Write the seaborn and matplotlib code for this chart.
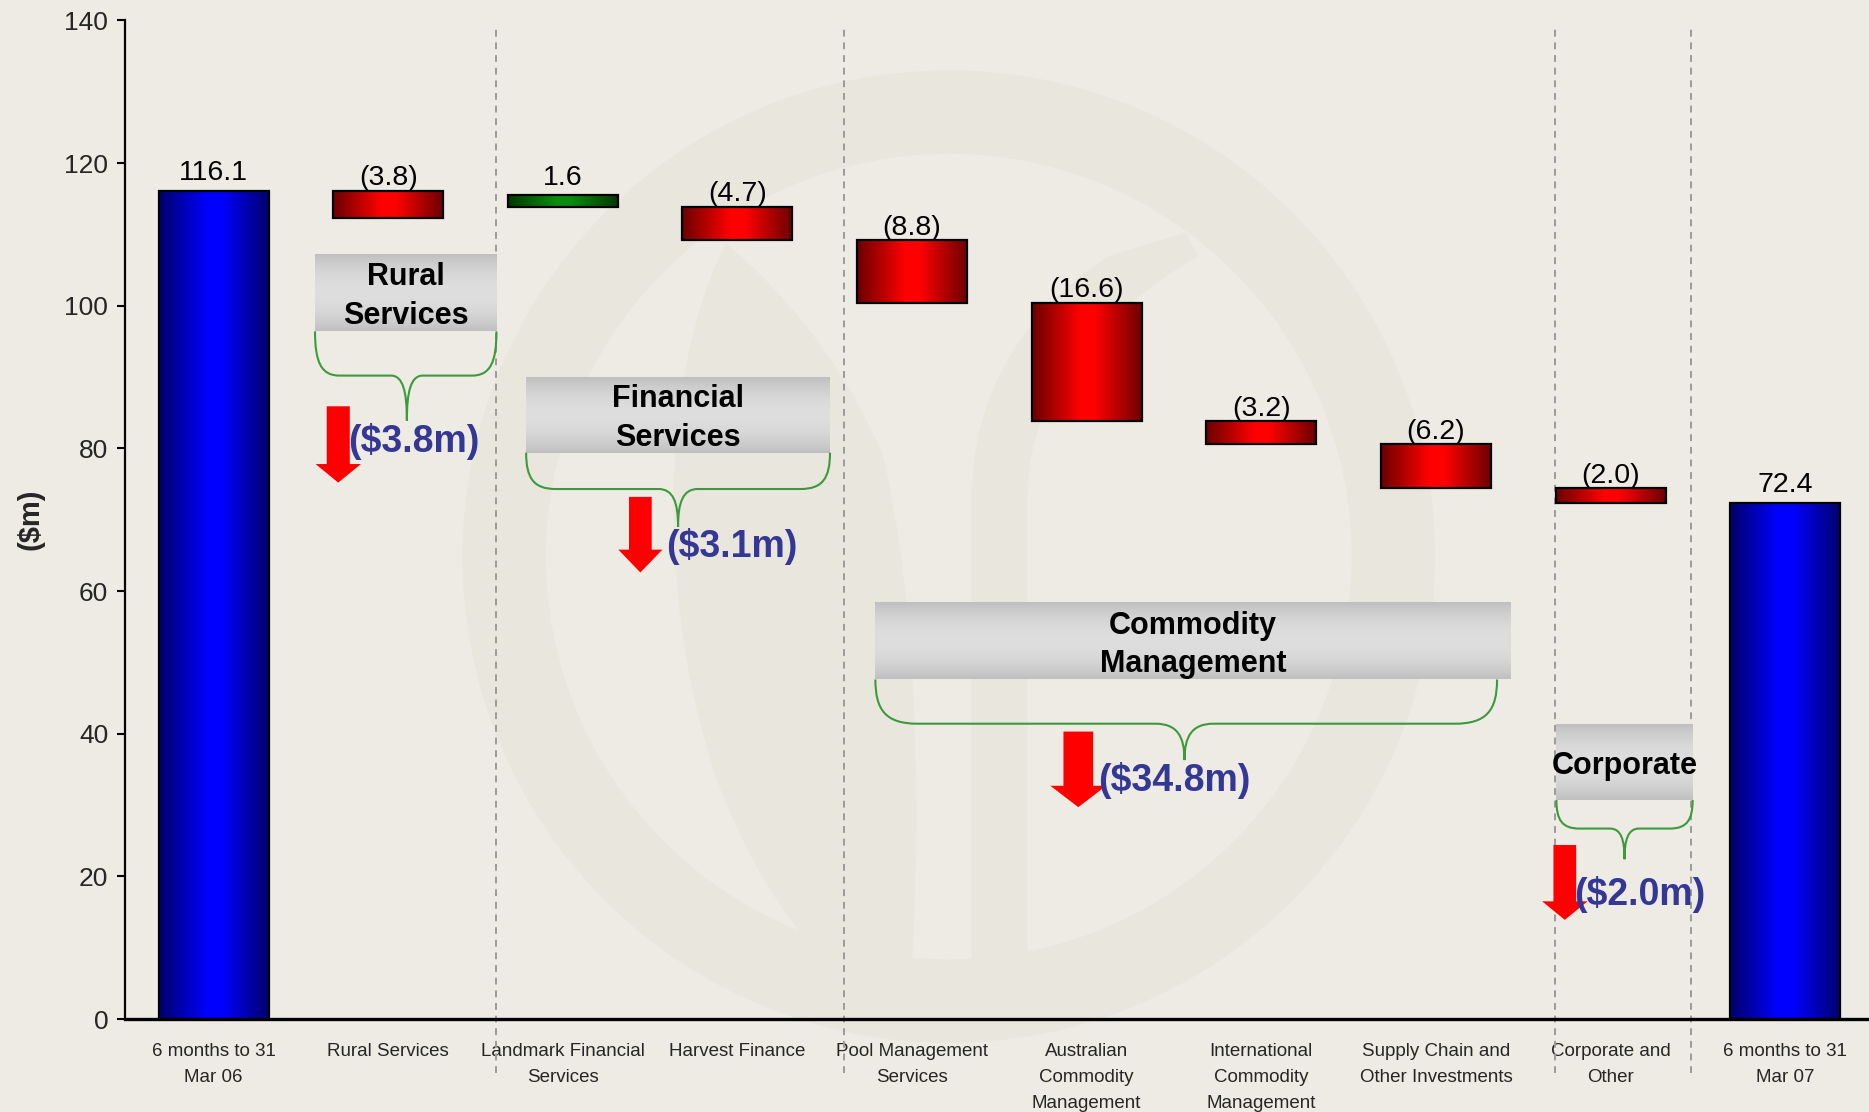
import numpy as np
import pandas as pd
import matplotlib
matplotlib.use("Agg")
import matplotlib.pyplot as plt
import seaborn as sns
from matplotlib.patches import PathPatch, Wedge, Polygon
from matplotlib.path import Path

# ---------------------------------------------------------------- data
categories = [
    "6 months to 31\nMar 06",
    "Rural Services",
    "Landmark Financial\nServices",
    "Harvest Finance",
    "Pool Management\nServices",
    "Australian\nCommodity\nManagement",
    "International\nCommodity\nManagement",
    "Supply Chain and\nOther Investments",
    "Corporate and\nOther",
    "6 months to 31\nMar 07",
]
opening = 116.1
changes = [-3.8, 1.6, -4.7, -8.8, -16.6, -3.2, -6.2, -2.0]
closing = 72.4
value_labels = ["116.1", "(3.8)", "1.6", "(4.7)", "(8.8)", "(16.6)",
                "(3.2)", "(6.2)", "(2.0)", "72.4"]
y_ticks = [0, 20, 40, 60, 80, 100, 120, 140]

group_names = ["Rural\nServices", "Financial\nServices",
               "Commodity\nManagement", "Corporate"]
group_members = [[0], [1, 2], [3, 4, 5, 6], [7]]   # indices into `changes`

# ---------------------------------------------------------------- derived values
running = [opening]
for c in changes:
    running.append(running[-1] + c)
bottoms = [0.0] + running[1:] + [0.0]
heights = [opening] + [abs(c) for c in changes] + [closing]
kinds = ["total"] + ["up" if c > 0 else "down" for c in changes] + ["total"]
group_sums = [sum(changes[i] for i in idx) for idx in group_members]

df = pd.DataFrame({"category": categories, "height": heights,
                   "bottom": bottoms, "kind": kinds, "label": value_labels})

# ---------------------------------------------------------------- style
sns.set_theme(style="ticks")
plt.rcParams["font.family"] = ["Liberation Sans", "DejaVu Sans"]

BG = "#EEEBE4"
MARK = "#E9E6DE"
fig = plt.figure(figsize=(18.69, 11.12), dpi=100, facecolor=BG)

# faint logo watermark behind the chart (page pixel coordinates)
bg = fig.add_axes([0, 0, 1, 1], zorder=0)
bg.set_xlim(0, 1568)
bg.set_ylim(933, 0)
bg.axis("off")
bg.add_patch(Wedge((796, 467), 408, 0, 360, width=70, color=MARK, lw=0))
leaf = Path(
    [(609, 204), (560, 300), (545, 480), (600, 650), (640, 760), (700, 830), (762, 850),
     (775, 700), (770, 500), (740, 380), (700, 290), (650, 240), (609, 204)],
    [Path.MOVETO, Path.CURVE4, Path.CURVE4, Path.CURVE4, Path.CURVE4, Path.CURVE4, Path.CURVE4,
     Path.CURVE4, Path.CURVE4, Path.CURVE4, Path.CURVE4, Path.CURVE4, Path.CURVE4])
bg.add_patch(PathPatch(leaf, color=MARK, lw=0))
stem = Path(
    [(815, 860), (815, 600), (815, 420), (815, 330), (860, 260), (930, 215), (995, 195),
     (1005, 215), (930, 260), (862, 320), (862, 420), (862, 600), (862, 860), (815, 860)],
    [Path.MOVETO, Path.LINETO, Path.LINETO, Path.CURVE4, Path.CURVE4, Path.CURVE4, Path.LINETO,
     Path.LINETO, Path.CURVE4, Path.CURVE4, Path.CURVE4, Path.LINETO, Path.LINETO, Path.CLOSEPOLY])
bg.add_patch(PathPatch(stem, color=MARK, lw=0))

ax = fig.add_axes([0.0669, 0.0836, 0.9331, 0.8981], zorder=1)
ax.patch.set_alpha(0)

# ---------------------------------------------------------------- bars
sns.barplot(data=df, x="category", y="height", order=categories, width=0.63,
            color="white", saturation=1, edgecolor="black", linewidth=1.6, ax=ax)

palette = {
    "total": (np.array([0.0, 0.0, 0.42]), np.array([0.0, 0.0, 1.0])),
    "down": (np.array([0.42, 0.0, 0.0]), np.array([1.0, 0.0, 0.0])),
    "up": (np.array([0.0, 0.22, 0.0]), np.array([0.05, 0.55, 0.05])),
}


def shade_across(dark, bright, n=256):
    t = np.linspace(-1, 1, n)
    w = np.clip((1 - np.abs(t)) * 1.15, 0, 1)
    return (dark[None, :] + (bright - dark)[None, :] * w[:, None])[None, :, :]


for patch, row in zip(ax.patches, df.itertuples()):
    patch.set_y(row.bottom)
    x, w, h = patch.get_x(), patch.get_width(), patch.get_height()
    dark, bright = palette[row.kind]
    ax.imshow(shade_across(dark, bright), extent=[x, x + w, row.bottom, row.bottom + h],
              aspect="auto", interpolation="bilinear", zorder=2)
    patch.set_facecolor("none")
    patch.set_zorder(3)
    off = 4 if row.label.startswith("(") else 7.5
    ax.annotate(row.label, (x + w / 2, row.bottom + h), xytext=(0, off),
                textcoords="offset points", ha="center", va="baseline",
                fontsize=20.5, color="black", zorder=5)

# ---------------------------------------------------------------- axes
ax.set_xlim(-0.507, 9.48)
ax.set_ylim(0, 140)
ax.set_yticks(y_ticks)
ax.set_yticklabels([str(v) for v in y_ticks], fontsize=19)
ax.tick_params(axis="y", length=6, width=1.5, color="black", pad=6)
ax.tick_params(axis="x", length=0, pad=17)
for lab in ax.get_xticklabels():
    lab.set_fontsize(13.5)
    lab.set_linespacing(1.72)
ax.set_xlabel("")
ax.set_ylabel("($m)", fontsize=21, fontweight="bold")
ax.yaxis.set_label_coords(-0.046, 0.5)
sns.despine(ax=ax, top=True, right=True)
ax.spines["left"].set_linewidth(1.6)
ax.spines["left"].set_color("black")
ax.spines["bottom"].set_linewidth(2.4)
ax.spines["bottom"].set_color("black")

# section dividers
for xd in [1.62, 3.61, 7.68, 8.46]:
    ax.plot([xd, xd], [-7.5, 139], color="#9A9A9A", lw=1.4,
            linestyle=(0, (3.5, 3)), clip_on=False, zorder=1)

# ---------------------------------------------------------------- segment call-outs
box_spans = [(0.581, 1.62, 96.4, 107.1), (1.79, 3.53, 79.4, 90.0),
             (3.79, 7.43, 47.6, 58.3), (7.69, 8.47, 30.7, 41.3)]
brace_specs = [(0.581, 1.62, 96.4, 90.2, 83.9, 1.107),
               (1.79, 3.53, 79.4, 74.3, 69.0, 2.66),
               (3.79, 7.35, 47.6, 41.4, 36.3, 5.56),
               (7.69, 8.47, 30.7, 26.7, 22.4, 8.08)]
arrow_specs = [(0.714, 0.066, 0.13, 85.9, 77.8, 75.2),
               (2.444, 0.065, 0.126, 73.2, 65.8, 62.6),
               (4.952, 0.085, 0.16, 40.3, 32.7, 29.7),
               (7.738, 0.065, 0.13, 24.4, 16.5, 13.9)]
total_pos = [(1.148, 81.0), (2.967, 66.3), (5.502, 33.4), (8.168, 17.5)]

t = np.linspace(-1, 1, 128)
box_shade = (0.75 + 0.12 * (1 - t ** 2))[:, None] * np.ones((1, 3))
box_shade = box_shade[:, None, :]

for name, total, (bx0, bx1, by0, by1), br, ar, (tx, ty) in zip(
        group_names, group_sums, box_spans, brace_specs, arrow_specs, total_pos):
    ax.imshow(box_shade, extent=[bx0, bx1, by0, by1], aspect="auto",
              interpolation="bilinear", zorder=4)
    ax.text((bx0 + bx1) / 2, (by0 + by1) / 2 - 0.5, name, ha="center", va="center",
            fontsize=22, fontweight="bold", linespacing=1.38, color="black", zorder=5)

    x0, x1, ytop, ymid, ytip, xtip = br
    width = x1 - x0
    c = 0.1 + 0.04 * width
    d = 0.06 + 0.03 * width
    verts, codes = [], []
    for xe, sgn in [(x0, 1), (x1, -1)]:
        verts += [(xe, ytop),
                  (xe, ymid + 0.3 * (ytop - ymid)), (xe + sgn * 0.25 * c, ymid), (xe + sgn * c, ymid),
                  (xtip - sgn * d, ymid),
                  (xtip - sgn * 0.25 * d, ymid), (xtip, ymid - 0.35 * (ymid - ytip)), (xtip, ytip)]
        codes += [Path.MOVETO, Path.CURVE4, Path.CURVE4, Path.CURVE4, Path.LINETO,
                  Path.CURVE4, Path.CURVE4, Path.CURVE4]
    ax.add_patch(PathPatch(Path(verts, codes), fill=False, edgecolor="#3C9A3C",
                           lw=1.5, zorder=4))

    cx, sw, hw, top, hb, tip = ar
    ax.add_patch(Polygon([(cx - sw, top), (cx + sw, top), (cx + sw, hb), (cx + hw, hb),
                          (cx, tip), (cx - hw, hb), (cx - sw, hb)],
                         closed=True, facecolor="#FF0000", edgecolor="none", zorder=5))
    ax.text(tx, ty, f"(${abs(total):.1f}m)", ha="center", va="center",
            fontsize=27, fontweight="bold", color="#343894", zorder=6)

fig.savefig("out.png", dpi=100, facecolor=BG)
